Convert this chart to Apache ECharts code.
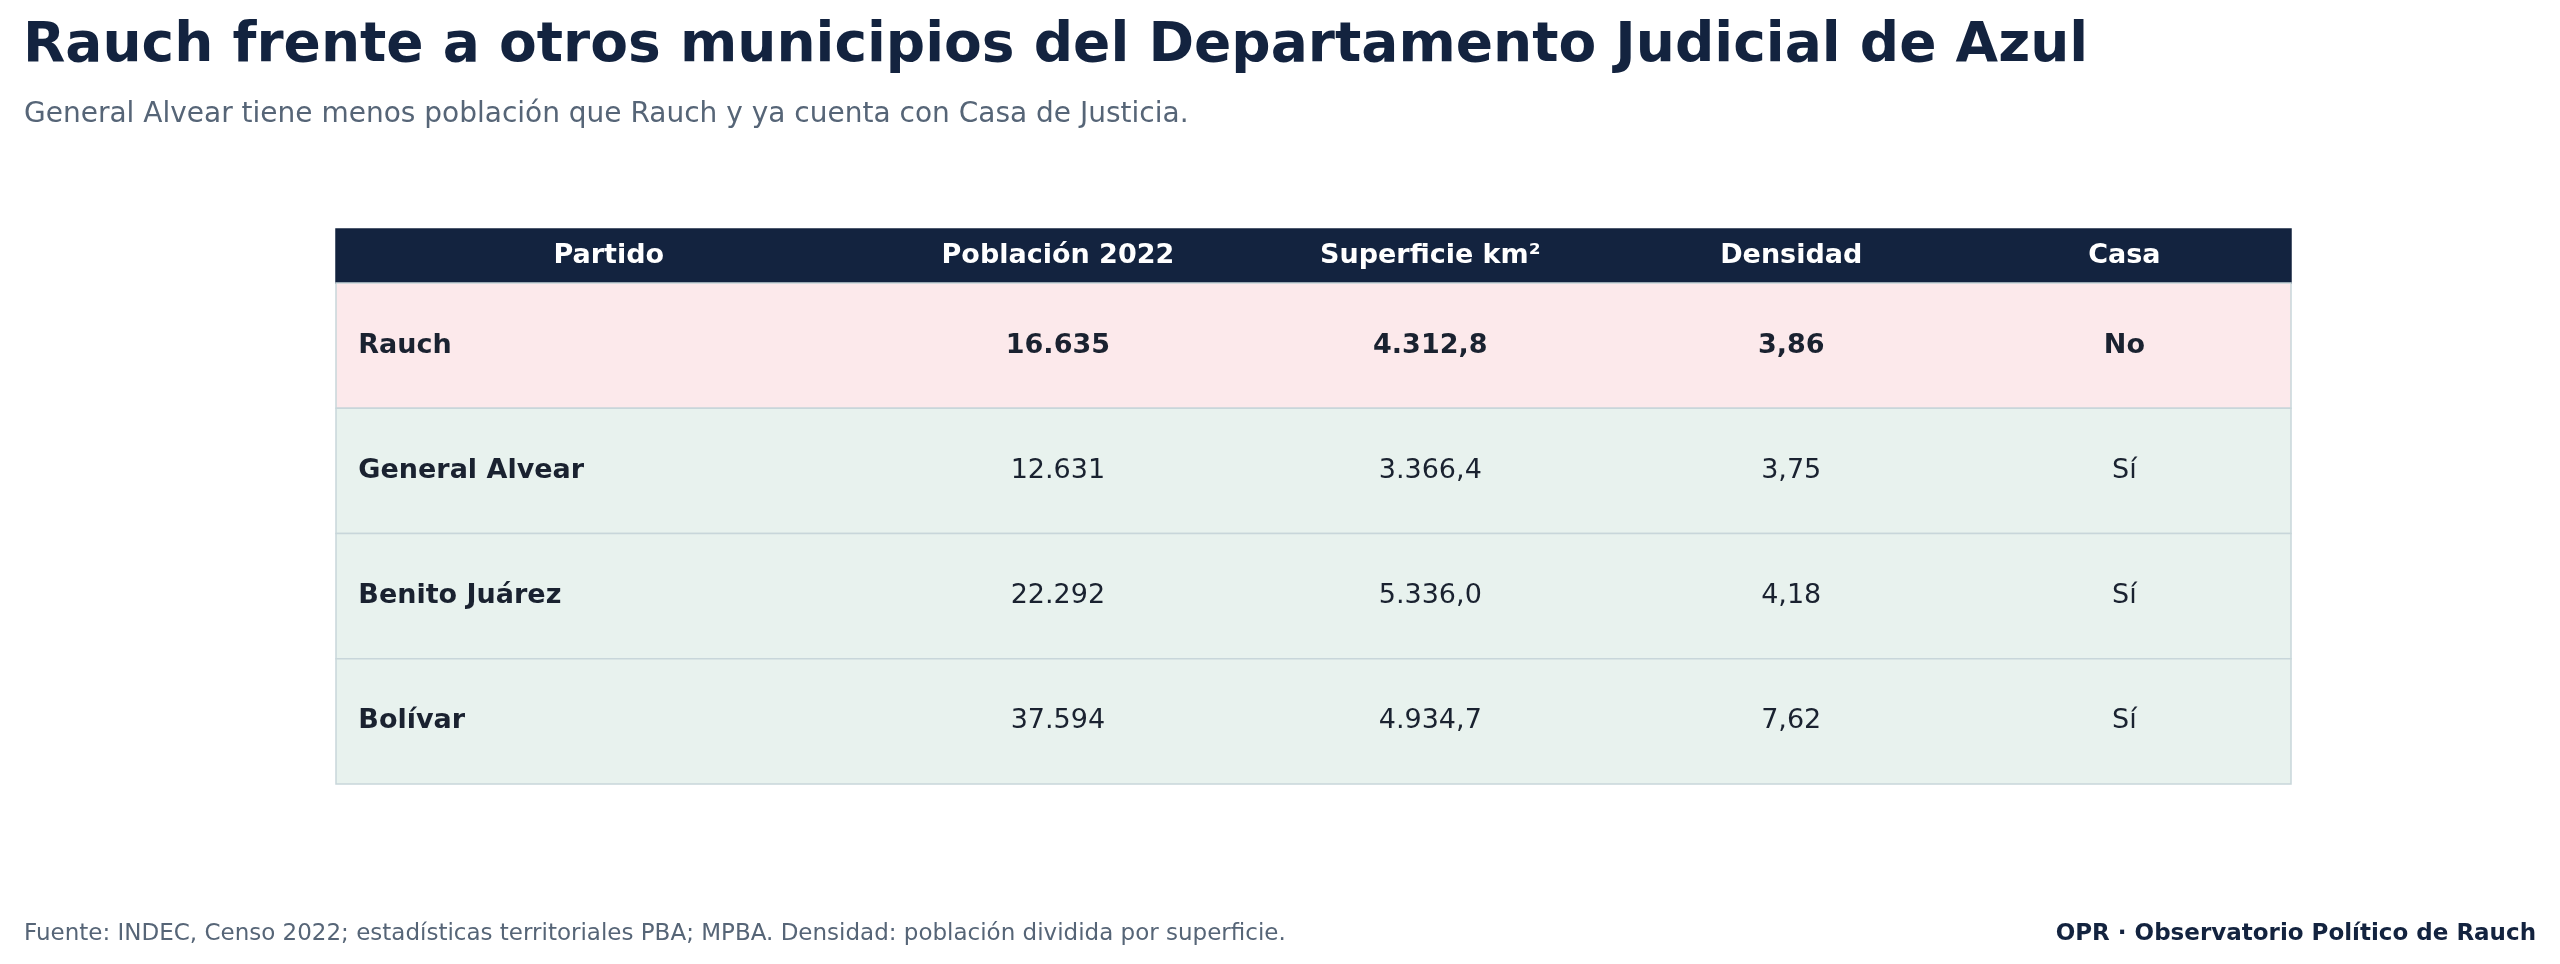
<!DOCTYPE html>
<html><head><meta charset="utf-8">
<script src="https://cdn.jsdelivr.net/npm/echarts@6/dist/echarts.min.js"></script>
<style>html,body{margin:0;background:#fff}#c{width:2560px;height:964px}</style>
</head><body><div id="c"></div>
<script>
const headers = ['Partido','Población 2022','Superficie km²','Densidad','Casa'];
const partidos = ['Rauch','General Alvear','Benito Juárez','Bolívar'];
const poblacion = ['16.635','12.631','22.292','37.594'];
const superficie = ['4.312,8','3.366,4','5.336,0','4.934,7'];
const densidad = ['3,86','3,75','4,18','7,62'];
const casa = ['No','Sí','Sí','Sí'];

// layout constants (x in axis units 0..1197 across table width)
const colCenters = [167, 442, 670, 891, 1095];
const HEAD = 0.432;
const F = 'DejaVu Sans, sans-serif';

const rows = partidos.map((p,i)=>[i]);
rows.unshift([-1]);

const chart = echarts.init(document.getElementById('c'));
chart.setOption({
  backgroundColor:'#fff',
  animation:false,
  title:[
    {text:'Rauch frente a otros municipios del Departamento Judicial de Azul',left:18,top:14,
     textStyle:{fontFamily:F,fontSize:55,fontWeight:'bold',color:'#13233f'}},
    {text:'General Alvear tiene menos población que Rauch y ya cuenta con Casa de Justicia.',left:19,top:96,
     textStyle:{fontFamily:F,fontSize:28,fontWeight:'normal',color:'#566577'}},
    {text:'Fuente: INDEC, Censo 2022; estadísticas territoriales PBA; MPBA. Densidad: población dividida por superficie.',left:19,top:918,
     textStyle:{fontFamily:F,fontSize:23,fontWeight:'normal',color:'#566577'}},
    {text:'OPR · Observatorio Político de Rauch',right:19,top:918,
     textStyle:{fontFamily:F,fontSize:23,fontWeight:'bold',color:'#13233f'}}
  ],
  grid:{left:336,width:1955,top:229,height:555},
  xAxis:{type:'value',min:0,max:1197,show:false},
  yAxis:{type:'value',min:0,max:4+HEAD,inverse:true,show:false},
  series:[{
    type:'custom',
    data:rows,
    renderItem:(params,api)=>{
      const r = api.value(0);
      const y0 = r<0?0:HEAD+r, y1 = r<0?HEAD:HEAD+r+1;
      const p0 = api.coord([0,y0]), p1 = api.coord([1197,y1]);
      const cy = (p0[1]+p1[1])/2;
      const children = [{type:'rect',shape:{x:p0[0],y:p0[1],width:p1[0]-p0[0],height:p1[1]-p0[1]},
        style:{fill:r<0?'#13233f':(r===0?'#fce9eb':'#e8f2ee'),stroke:r<0?'#13233f':'#c8d6da',lineWidth:1.5}}];
      const vals = r<0?headers:[partidos[r],poblacion[r],superficie[r],densidad[r],casa[r]];
      vals.forEach((v,c)=>{
        const left = (c===0 && r>=0);
        const x = left ? api.coord([10,0])[0]+6 : api.coord([colCenters[c],0])[0];
        children.push({type:'text',style:{text:v,x:x,y:cy,align:left?'left':'center',verticalAlign:'middle',
          font:((r<0||r===0||c===0)?'bold ':'')+'27px '+F,fill:r<0?'#ffffff':'#1a2230'}});
      });
      return {type:'group',children};
    }
  }]
});
</script></body></html>
